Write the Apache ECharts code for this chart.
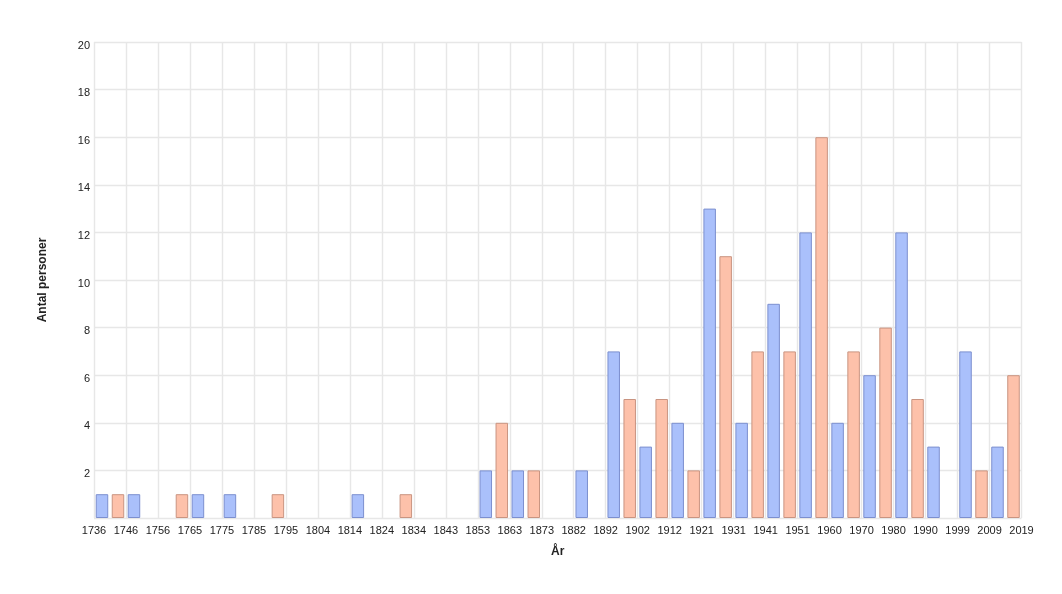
<!DOCTYPE html>
<html>
<head>
<meta charset="utf-8">
<script src="https://cdn.jsdelivr.net/npm/echarts@6/dist/echarts.min.js"></script>
<style>
html,body{margin:0;padding:0;background:#fff;}
#chart{width:1062px;height:594px;}
</style>
</head>
<body>
<div id="chart"></div>
<script>
// Tick labels of the year axis (bin edges)
var yearTicks = [1736,1746,1756,1765,1775,1785,1795,1804,1814,1824,1834,1843,1853,1863,1873,1882,1892,1902,1912,1921,1931,1941,1951,1960,1970,1980,1990,1999,2009,2019];
// Bins (one per interval between ticks)
var bins = ['1736','1746','1756','1765','1775','1785','1795','1804','1814','1824','1834','1843','1853','1863','1873','1882','1892','1902','1912','1921','1931','1941','1951','1960','1970','1980','1990','1999','2009'];
// First half of each bin (blue)
var blueCounts =   [1,1,0,1,1,0,0,0,1,0,0,0,2,2,0,2,7,3,4,13,4,9,12,4,6,12,3,7,3];
// Second half of each bin (salmon)
var salmonCounts = [1,0,1,0,0,1,0,0,0,1,0,0,4,2,0,0,5,5,2,11,7,7,16,7,8,5,0,2,6];
var yTicks = [0,2,4,6,8,10,12,14,16,18,20];

var gridColor = '#e7e7e7';
var txt = '#222';
var font = "'Liberation Sans', Arial, sans-serif";
function noZero(arr){ return arr.map(function(v){ return v === 0 ? '-' : v; }); }

var chart = echarts.init(document.getElementById('chart'), null, {renderer:'canvas'});
chart.setOption({
  animation:false,
  backgroundColor:'#fff',
  grid:{left:94, right:40.5, top:42, bottom:76, containLabel:false},
  xAxis:[{
    type:'category', data:bins, position:'top', boundaryGap:true,
    axisLine:{show:false}, axisTick:{show:false}, axisLabel:{show:false}, splitLine:{show:false}
  },{
    type:'value', min:0, max:yearTicks.length-1, interval:1, position:'bottom',
    axisLine:{show:false}, axisTick:{show:false},
    axisLabel:{color:txt, fontSize:11, fontFamily:font, margin:7,
      formatter:function(v){return yearTicks[Math.round(v)];}},
    splitLine:{show:true, lineStyle:{color:gridColor, width:1.4}},
    name:'År', nameLocation:'middle', nameGap:28,
    nameTextStyle:{color:txt, fontSize:12, fontWeight:'bold', fontFamily:font}
  }],
  yAxis:{
    type:'value', min:yTicks[0], max:yTicks[yTicks.length-1], interval:2,
    axisLine:{show:false}, axisTick:{show:false},
    axisLabel:{color:txt, fontSize:11, fontFamily:font, margin:4, verticalAlign:'top', lineHeight:7,
      formatter:function(v){return v===0?'':String(v);}},
    splitLine:{show:true, lineStyle:{color:gridColor, width:1.4}},
    name:'Antal personer', nameLocation:'middle', nameGap:45, nameRotate:90,
    nameTextStyle:{color:txt, fontSize:12, fontWeight:'bold', fontFamily:font}
  },
  series:[{
    type:'bar', xAxisIndex:0, data:noZero(blueCounts), barWidth:12.5, barGap:'28%',
    itemStyle:{color:'#aac0fb', borderColor:'#7c8fcf', borderWidth:1}
  },{
    type:'bar', xAxisIndex:0, data:noZero(salmonCounts), barWidth:12.5, barGap:'28%',
    itemStyle:{color:'#fdc1aa', borderColor:'#c99481', borderWidth:1}
  }]
});
</script>
</body>
</html>
